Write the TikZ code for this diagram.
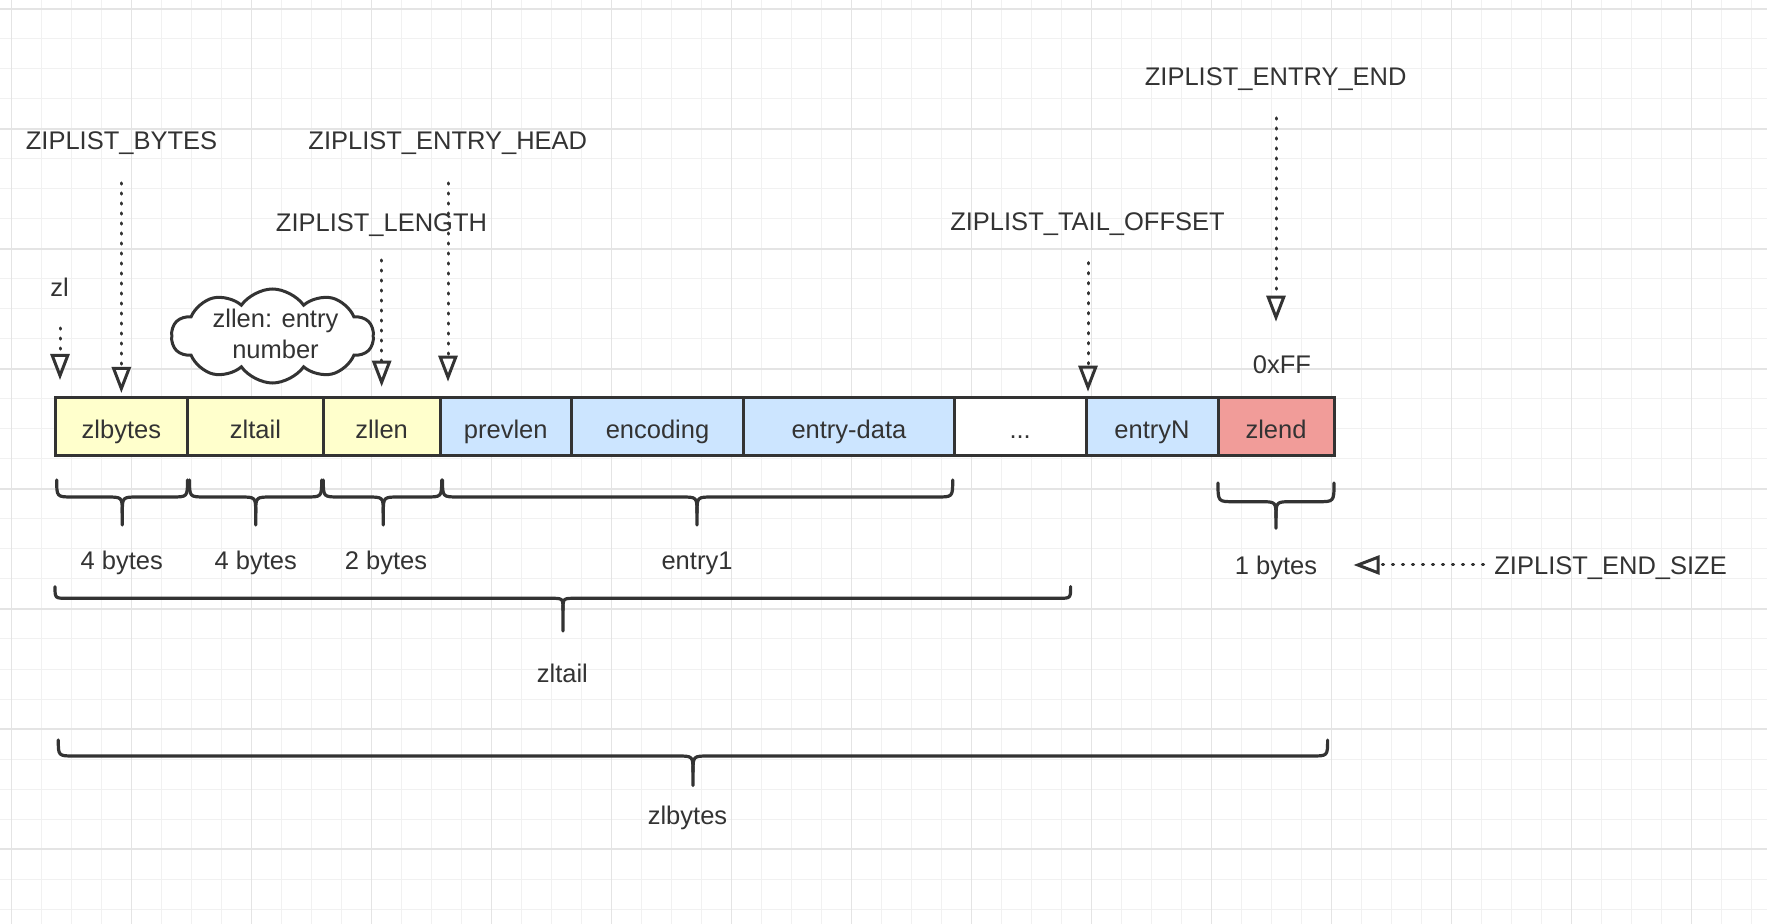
\documentclass[tikz,border=0pt]{standalone}
\usepackage{fontspec}
\setmainfont{Liberation Sans}
\usetikzlibrary{arrows.meta,shapes.symbols}
\definecolor{ink}{HTML}{333333}
\definecolor{txt}{HTML}{333333}
\definecolor{yel}{HTML}{FFFFCC}
\definecolor{blu}{HTML}{CCE5FF}
\definecolor{redf}{HTML}{F19C99}
\definecolor{gminor}{HTML}{F1F1F1}
\definecolor{gmajor}{HTML}{E4E4E4}
% x0 x1 xc top mid tip r
\newcommand\zbrace[7]{%
  \draw[bracestyle] (#1,#4) .. controls (#1,#5) .. ({#1+#7},#5) -- ({#3-#7},#5)
     .. controls (#3,#5) .. (#3,{#5+#7}) -- (#3,#6);
  \draw[bracestyle] (#2,#4) .. controls (#2,#5) .. ({#2-#7},#5) -- ({#3+#7},#5)
     .. controls (#3,#5) .. (#3,{#5+#7});
}
\begin{document}
\begin{tikzpicture}[x=0.5pt,y=-0.5pt,
  lbl/.style={font=\fontsize{12.75}{15}\selectfont, text=txt, inner sep=0pt, text height=9.2pt, text depth=0pt},
  cell/.style={lbl, text height=11.4pt, draw=ink, line width=1.5pt, minimum height=29.25pt, outer sep=0pt},
  dotarrow/.style={draw=ink, line width=1.5pt, line cap=round, dash pattern=on 0.6pt off 4.4pt,
     -{Triangle[open,length=13pt,width=9.5pt,line width=1.5pt,line cap=butt]}},
  bracestyle/.style={draw=ink, line width=1.6pt, line cap=round, line join=round}]
\useasboundingbox (0,0) rectangle (1767,924);
\fill[white] (0,0) rectangle (1767,924);
% grid
\foreach \i in {0,...,58} {\draw[gminor, line width=0.5pt] ({11.7+30*\i},0) -- ({11.7+30*\i},924);}
\foreach \i in {0,...,30} {\draw[gminor, line width=0.5pt] (0,{9+30*\i}) -- (1767,{9+30*\i});}
\foreach \i in {0,...,14} {\draw[gmajor, line width=0.6pt] ({11.7+120*\i},0) -- ({11.7+120*\i},924);}
\foreach \i in {0,...,7} {\draw[gmajor, line width=0.6pt] (0,{9+120*\i}) -- (1767,{9+120*\i});}

% cells
\node[cell, fill=yel, minimum width=66.35pt] (zlbytes) at (121.35,426.75) {zlbytes};
\node[cell, fill=yel, minimum width=67.8pt] (zltail) at (255.5,426.75) {zltail};
\node[cell, fill=yel, minimum width=58.35pt] (zllen) at (381.65,426.75) {zllen};
\node[cell, fill=blu, minimum width=65.75pt] (prevlen) at (505.75,426.75) {prevlen};
\node[cell, fill=blu, minimum width=86pt] (encoding) at (657.5,426.75) {encoding};
\node[cell, fill=blu, minimum width=105.4pt] (entrydata) at (848.9,426.75) {entry-data};
\node[cell, fill=white, minimum width=65.85pt] (more) at (1020.15,426.75) {...};
\node[cell, fill=blu, minimum width=66pt] (entryN) at (1152,426.75) {entryN};
\node[cell, fill=redf, minimum width=58pt] (zlend) at (1276,426.75) {zlend};

% labels
\node[lbl] (zl) at (59.7,287.4) {zl};
\node[lbl] (lbytes) at (121.5,140.5) {ZIPLIST\_BYTES};
\node[lbl] (lhead) at (447.8,140.5) {ZIPLIST\_ENTRY\_HEAD};
\node[lbl] (llength) at (381.5,222) {ZIPLIST\_LENGTH};
\node[lbl] (ltail) at (1087.5,221) {ZIPLIST\_TAIL\_OFFSET};
\node[lbl] (lend) at (1275.7,76.6) {ZIPLIST\_ENTRY\_END};
\node[lbl] (ff) at (1282,364) {0xFF};
\node[lbl] (endsize) at (1610.6,565) {ZIPLIST\_END\_SIZE};

% cloud
\node[cloud, draw=ink, fill=white, line width=1.5pt, cloud puffs=10, cloud puff arc=110,
      cloud ignores aspect, minimum width=101pt, minimum height=47pt, inner sep=0pt] (cloud) at (272.5,336) {};
\node[font=\fontsize{12.75}{15.75}\selectfont, text=txt, align=center, inner sep=0pt] (cloudtxt) at (275.5,334) {zllen: entry\\number};

% arrows
\coordinate (zlS) at (60,328);
\coordinate (zlT) at (60,380);
\coordinate (bytesS) at (121.35,183);
\coordinate (lenS) at (381.65,260);
\coordinate (headS) at (448,183);
\coordinate (headT) at (448,381.7);
\coordinate (tailS) at (1088,262.6);
\coordinate (tailT) at (1088,391.7);
\coordinate (endS) at (1276,118);
\coordinate (endT) at (1276,321.7);
\coordinate (esS) at (1483.5,565);
\coordinate (esT) at (1353.5,565);
\draw[dotarrow] (zlS) -- (zlT);
\draw[dotarrow, shorten >=2.25pt] (bytesS) -- (zlbytes.north);
\draw[dotarrow, shorten >=5.4pt] (lenS) -- (zllen.north);
\draw[dotarrow] (headS) -- (headT);
\draw[dotarrow] (tailS) -- (tailT);
\draw[dotarrow] (endS) -- (endT);
\draw[dotarrow] (esS) -- (esT);

% braces
\zbrace{56.7}{187.5}{122.3}{480}{497}{525}{16}
\zbrace{189.5}{321.7}{255.7}{480}{497}{525}{16}
\zbrace{323.3}{441.7}{383.3}{480}{497}{525}{16}
\zbrace{442.5}{952.7}{697}{480}{497}{525}{16}
\zbrace{1218}{1334}{1276}{483}{501.7}{528.3}{16}
\zbrace{55}{1070.6}{563}{586.7}{598.3}{631}{12}
\zbrace{58.3}{1327.6}{693}{740}{756}{785.5}{16}

\node[lbl] (b1) at (121.7,560) {4 bytes};
\node[lbl] (b2) at (255.8,560) {4 bytes};
\node[lbl] (b3) at (386,560) {2 bytes};
\node[lbl] (e1) at (697,560) {entry1};
\node[lbl] (b4) at (1276,565) {1 bytes};
\node[lbl] (tailsum) at (562.4,673) {zltail};
\node[lbl] (bytessum) at (687.5,815) {zlbytes};
\end{tikzpicture}
\end{document}
